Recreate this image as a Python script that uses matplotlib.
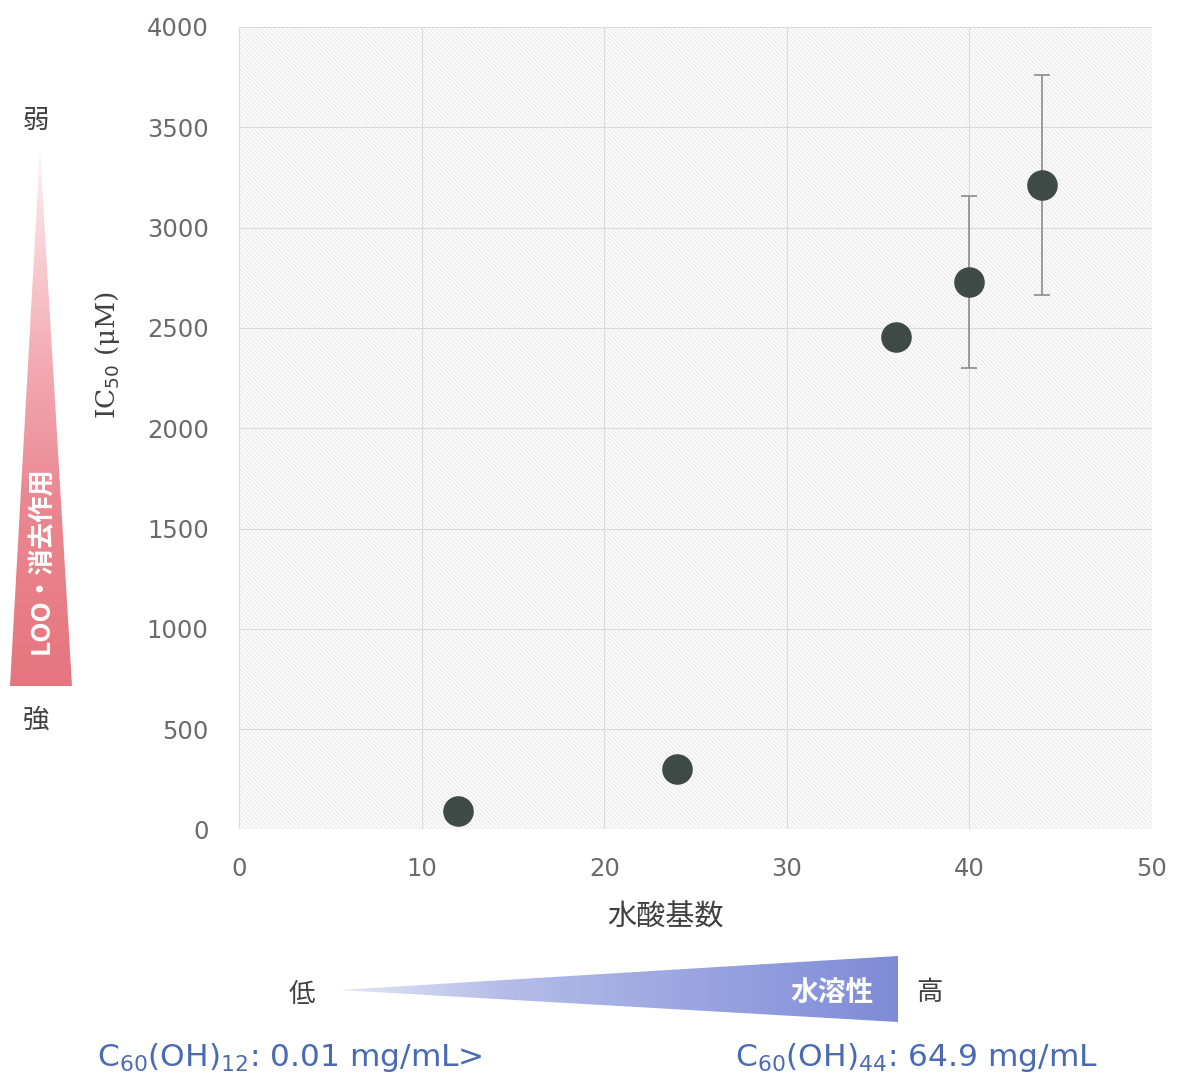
import numpy as np
import matplotlib
matplotlib.use("Agg")
import matplotlib.pyplot as plt
from matplotlib.patches import Polygon, Rectangle
from matplotlib.colors import LinearSegmentedColormap

# ---- data ----
hydroxyl_counts = [12, 24, 36, 40, 44]
ic50_values = [92, 301, 2453, 2729, 3212]
ic50_errors = [0, 0, 0, 431, 548]
x_ticks = [0, 10, 20, 30, 40, 50]
y_ticks = [0, 500, 1000, 1500, 2000, 2500, 3000, 3500, 4000]

W, H = 1182, 1081
fig = plt.figure(figsize=(W / 100, H / 100), dpi=100)
fig.patch.set_facecolor("white")

CJK = ["Noto Sans CJK JP", "DejaVu Sans"]
tick_col = "#6a6a6a"

ax = fig.add_axes([239.2 / W, 1 - 829.4 / H, 912.5 / W, 802.4 / H])
ax.set_xlim(0, 50)
ax.set_ylim(0, 4000)
ax.patch.set_facecolor("white")
plt.rcParams["hatch.linewidth"] = 0.6
bg = Rectangle((0, 0), 1, 1, transform=ax.transAxes, facecolor="#fcfcfc",
               edgecolor="#e6e6e6", hatch="\\\\\\\\\\\\\\\\", linewidth=0, zorder=0)
ax.add_patch(bg)
for s in ax.spines.values():
    s.set_visible(False)
ax.set_xticks(x_ticks)
ax.set_yticks(y_ticks)
ax.tick_params(length=0, labelsize=17.5, colors=tick_col)
ax.tick_params(axis="y", pad=22)
ax.tick_params(axis="x", pad=20)
ax.grid(True, color="#dadada", linewidth=0.8, zorder=1)
ax.set_axisbelow(True)

ax.errorbar(hydroxyl_counts, ic50_values, yerr=ic50_errors, fmt="none",
            ecolor="#8c8c8c", elinewidth=1.2, capsize=6, capthick=1.2, zorder=3)
ax.plot(hydroxyl_counts, ic50_values, linestyle="none", marker="o",
        markersize=21, color="#3f4a46", zorder=4)

fig.text(665 / W, 1 - 918 / H, "水酸基数", fontsize=21, color="#404040",
         family=CJK, ha="center", va="center")
fig.text(108 / W, 1 - 355 / H, "IC$_{50}$ (μM)", rotation=90, fontsize=19,
         color="#404040", ha="center", va="center", family="DejaVu Serif")

# ---- overlay for gradient triangles and annotations ----
ov = fig.add_axes([0, 0, 1, 1], zorder=-1)
ov.set_xlim(0, W)
ov.set_ylim(H, 0)
ov.axis("off")
ov.patch.set_alpha(0)

# pink vertical triangle
pink_cmap = LinearSegmentedColormap.from_list(
    "pk", [(0, "#fdf1f2"), (0.4, "#f3aab2"), (0.65, "#ea8891"), (1, "#e6757f")])
grad_v = np.linspace(0, 1, 256).reshape(-1, 1)
im = ov.imshow(grad_v, extent=(8, 74, 686, 150), origin="upper", cmap=pink_cmap,
               aspect="auto", zorder=1)
tri_p = Polygon([(10, 686), (40, 150), (72, 686)], closed=True,
                facecolor="none", edgecolor="none", transform=ov.transData)
ov.add_patch(tri_p)
im.set_clip_path(tri_p)

# blue horizontal triangle
blue_cmap = LinearSegmentedColormap.from_list(
    "bl", [(0, "#e4e7f6"), (0.3, "#b3bce8"), (0.7, "#95a1df"), (1, "#7e8bd6")])
grad_h = np.linspace(0, 1, 256).reshape(1, -1)
im2 = ov.imshow(grad_h, extent=(338, 900, 1024, 955), origin="upper", cmap=blue_cmap,
                aspect="auto", zorder=1)
tri_b = Polygon([(340, 990), (898, 956), (898, 1022)], closed=True,
                facecolor="none", edgecolor="none", transform=ov.transData)
ov.add_patch(tri_b)
im2.set_clip_path(tri_b)

ov.text(36, 120, "弱", fontsize=19, color="#404040", ha="center", va="center", family=CJK)
ov.text(36, 720, "強", fontsize=19, color="#404040", ha="center", va="center", family=CJK)
ov.text(41, 560, "LOO・消去作用", fontsize=19, color="white", rotation=90,
        ha="center", va="center", family=CJK, fontweight="bold", zorder=3)

ov.text(302, 995, "低", fontsize=19, color="#404040", ha="center", va="center", family=CJK)
ov.text(929, 993, "高", fontsize=19, color="#404040", ha="center", va="center", family=CJK)
ov.text(832, 993, "水溶性", fontsize=20, color="white", ha="center", va="center",
        family=CJK, fontweight="bold", zorder=3)

blue_txt = "#4a6bb3"
ov.text(97, 1057, "C$_{60}$(OH)$_{12}$: 0.01 mg/mL>", fontsize=22.5, color=blue_txt,
        ha="left", va="center")
ov.text(735, 1057, "C$_{60}$(OH)$_{44}$: 64.9 mg/mL", fontsize=22.5, color=blue_txt,
        ha="left", va="center")

fig.savefig("out.png", dpi=100, facecolor="white")
